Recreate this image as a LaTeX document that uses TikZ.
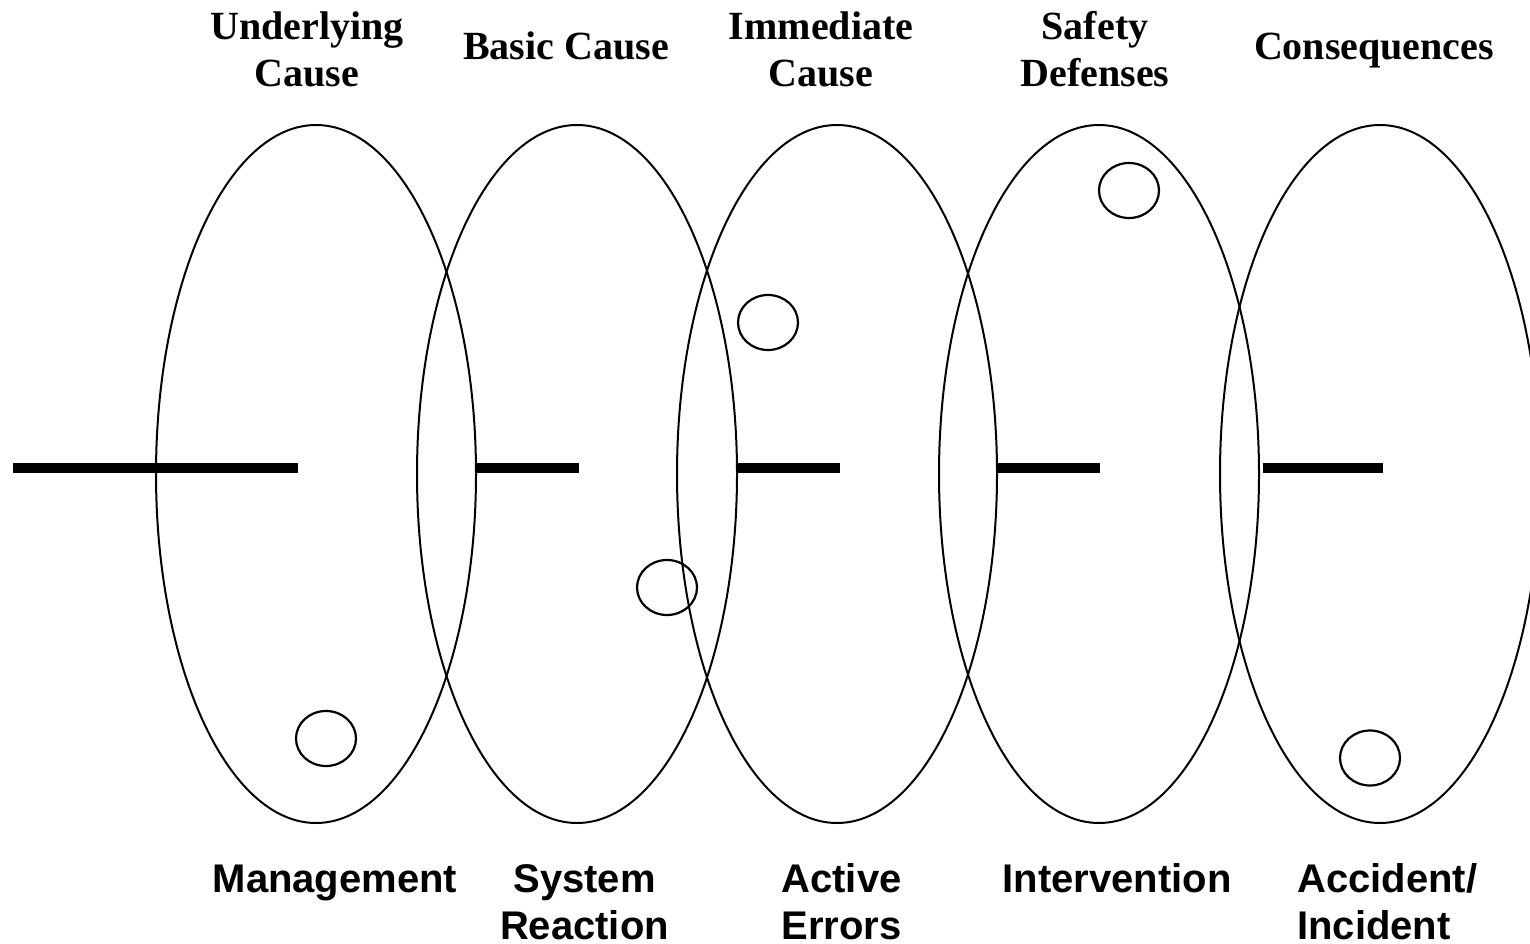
\documentclass[tikz,border=0pt]{standalone}
\usepackage{fontspec}
\setmainfont{Liberation Serif}
\setsansfont{Liberation Sans}
\begin{document}
\begin{tikzpicture}[x=1pt,y=-1pt,
  bigring/.style={line width=2pt},
  hole/.style={line width=2.2pt},
  bar/.style={line width=10pt,line cap=butt},
  toplabel/.style={font=\fontsize{40}{47.5}\selectfont\rmfamily\bfseries,align=center,anchor=base,inner sep=0pt},
  botlabel/.style={font=\fontsize{40}{47}\selectfont\sffamily\bfseries,align=center,anchor=base,inner sep=0pt}]
\useasboundingbox (0,0) rectangle (1530,944);
\clip (0,0) rectangle (1530,944);
% ring centres
\coordinate (r1) at (316,474);
\coordinate (r2) at (577,474);
\coordinate (r3) at (837,474);
\coordinate (r4) at (1099,474);
\coordinate (r5) at (1380,474);
\foreach \r in {r1,r2,r3,r4,r5}
  \draw[bigring] (\r) ellipse (160 and 349);
% holes
\coordinate (h1) at (326,738.5);
\coordinate (h2) at (667,587.5);
\coordinate (h3) at (768,322.5);
\coordinate (h4) at (1129,190.5);
\coordinate (h5) at (1370,758);
\foreach \h in {h1,h2,h3,h4,h5}
  \draw[hole] (\h) ellipse (30 and 27.5);
% bars
\coordinate (b1s) at (13,468);   \coordinate (b1e) at (298,468);
\coordinate (b2s) at (475,468);  \coordinate (b2e) at (579,468);
\coordinate (b3s) at (736,468);  \coordinate (b3e) at (840,468);
\coordinate (b4s) at (997,468);  \coordinate (b4e) at (1100,468);
\coordinate (b5s) at (1263,468); \coordinate (b5e) at (1383,468);
\draw[bar] (b1s) -- (b1e);
\draw[bar] (b2s) -- (b2e);
\draw[bar] (b3s) -- (b3e);
\draw[bar] (b4s) -- (b4e);
\draw[bar] (b5s) -- (b5e);
% top labels (base = baseline of last line)
\node[toplabel] (t1) at (307,87) {Underlying\\Cause};
\node[toplabel] (t2) at (566,59.5) {Basic Cause};
\node[toplabel] (t3) at (821,87) {Immediate\\Cause};
\node[toplabel] (t4) at (1095,87) {Safety\\Defenses};
\node[toplabel] (t5) at (1374,59.5) {Consequences};
% bottom labels
\node[botlabel] (m1) at (335,892) {Management};
\node[botlabel] (m2) at (584.5,939) {System\\Reaction};
\node[botlabel] (m3) at (841.5,939) {Active\\Errors};
\node[botlabel] (m4) at (1117,892) {Intervention};
\node[botlabel,align=left,anchor=base west] (m5) at (1297,939) {Accident/\\Incident};
\end{tikzpicture}
\end{document}
